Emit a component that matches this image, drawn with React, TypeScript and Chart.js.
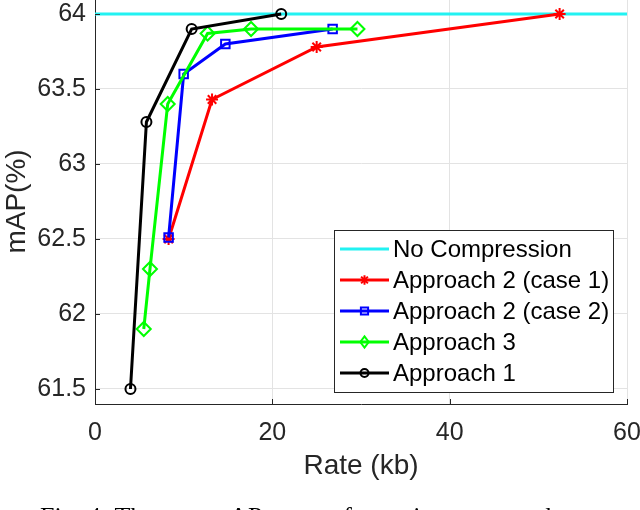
import React, { useEffect, useRef } from "react";
import { Chart, registerables } from "chart.js";

Chart.register(...registerables);

const xTicks = [0, 20, 40, 60];
const yTicks = [61.5, 62, 62.5, 63, 63.5, 64];

const seriesNames = [
  "No Compression",
  "Approach 2 (case 1)",
  "Approach 2 (case 2)",
  "Approach 3",
  "Approach 1",
];

const noCompX = [0, 60];
const noCompY = [64, 64];

const case1X = [8.3, 13.2, 25.0, 52.4];
const case1Y = [62.5, 63.43, 63.78, 64.0];

const case2X = [8.3, 10.0, 14.7, 26.8];
const case2Y = [62.51, 63.6, 63.8, 63.9];

const app3X = [5.5, 6.2, 8.2, 12.7, 17.6, 29.6];
const app3Y = [61.9, 62.3, 63.4, 63.87, 63.9, 63.9];

const app1X = [4.0, 5.8, 10.9, 21.0];
const app1Y = [61.5, 63.28, 63.9, 64.0];

const caption = "Fig. 4: The rate-mAP curves for various approaches.";

const pts = (xs: number[], ys: number[]) => xs.map((x, i) => ({ x, y: ys[i] }));

function drawMarker(ctx: CanvasRenderingContext2D, style: string, r: number, x: number, y: number) {
  ctx.beginPath();
  if (style === "circle") {
    ctx.arc(x, y, r, 0, Math.PI * 2);
  } else if (style === "rect") {
    ctx.rect(x - r * 0.75, y - r * 0.75, r * 1.5, r * 1.5);
  } else if (style === "rectRot") {
    ctx.moveTo(x, y - r);
    ctx.lineTo(x + r * 0.75, y);
    ctx.lineTo(x, y + r);
    ctx.lineTo(x - r * 0.75, y);
    ctx.closePath();
  } else if (style === "star") {
    for (let k = 0; k < 4; k++) {
      const a = (k * Math.PI) / 4;
      ctx.moveTo(x + Math.cos(a) * r, y + Math.sin(a) * r);
      ctx.lineTo(x - Math.cos(a) * r, y - Math.sin(a) * r);
    }
  }
  ctx.stroke();
}

export default function App() {
  const ref = useRef<HTMLCanvasElement | null>(null);

  useEffect(() => {
    if (!ref.current) return;
    const axisColor = "#262626";
    const font = "Liberation Sans, Arial, sans-serif";

    const legendPlugin = {
      id: "customLegend",
      afterDraw(chart: any) {
        const ctx = chart.ctx;
        const xs = chart.scales.x;
        const ys = chart.scales.y;
        ctx.save();
        // inward tick marks
        ctx.strokeStyle = axisColor;
        ctx.lineWidth = 1;
        xTicks.forEach((v) => {
          const px = Math.round(xs.getPixelForValue(v)) + 0.5;
          ctx.beginPath();
          ctx.moveTo(px, chart.chartArea.bottom);
          ctx.lineTo(px, chart.chartArea.bottom - 5);
          ctx.stroke();
        });
        yTicks.forEach((v) => {
          const py = Math.round(ys.getPixelForValue(v)) + 0.5;
          ctx.beginPath();
          ctx.moveTo(chart.chartArea.left, py);
          ctx.lineTo(chart.chartArea.left + 5, py);
          ctx.stroke();
        });

        // legend box
        const bx = 334.5, by = 240.5, bw = 279, bh = 162;
        ctx.fillStyle = "#ffffff";
        ctx.fillRect(bx, by, bw, bh);
        ctx.strokeStyle = axisColor;
        ctx.lineWidth = 1;
        ctx.strokeRect(bx, by, bw, bh);
        const rowY = [259, 290, 321, 352, 383];
        chart.data.datasets.forEach((ds: any, i: number) => {
          const y = rowY[i];
          ctx.strokeStyle = ds.borderColor;
          ctx.lineWidth = ds.borderWidth;
          ctx.beginPath();
          ctx.moveTo(340, y);
          ctx.lineTo(389, y);
          ctx.stroke();
          if (ds.pointRadius > 0) {
            ctx.lineWidth = ds.pointBorderWidth;
            drawMarker(ctx, ds.pointStyle, ds.pointRadius * 0.8, 364.5, y);
          }
          ctx.fillStyle = "#000000";
          ctx.font = `24px ${font}`;
          ctx.textBaseline = "middle";
          ctx.textAlign = "left";
          ctx.fillText(seriesNames[i], 393, y + 1);
        });

        // caption (mostly cropped by the page edge)
        ctx.fillStyle = "#000000";
        ctx.font = "26px 'Liberation Serif', 'Times New Roman', serif";
        ctx.textAlign = "left";
        ctx.textBaseline = "top";
        ctx.fillText(caption, 40, 515);
        ctx.restore();
      },
    };

    const mk = (
      label: string,
      xs: number[],
      ys: number[],
      color: string,
      style: any,
      radius: number,
      order: number
    ) => ({
      label,
      data: pts(xs, ys),
      showLine: true,
      borderColor: color,
      backgroundColor: "rgba(0,0,0,0)",
      pointBorderColor: color,
      pointBackgroundColor: "rgba(0,0,0,0)",
      pointStyle: style,
      pointRadius: radius,
      pointHoverRadius: radius,
      pointBorderWidth: 2,
      borderWidth: 3,
      tension: 0,
      order,
    });

    const chart = new Chart(ref.current, {
      type: "scatter",
      data: {
        datasets: [
          mk(seriesNames[0], noCompX, noCompY, "#22f2f2", "circle", 0, 5),
          mk(seriesNames[1], case1X, case1Y, "#ff0000", "star", 6, 4),
          mk(seriesNames[2], case2X, case2Y, "#0000ff", "rect", 6, 3),
          mk(seriesNames[3], app3X, app3Y, "#00ff00", "rectRot", 7, 2),
          mk(seriesNames[4], app1X, app1Y, "#000000", "circle", 5, 1),
        ] as any,
      },
      options: {
        animation: false,
        responsive: false,
        events: [],
        layout: { padding: { top: 9, right: 13, left: 0, bottom: 0 } },
        plugins: {
          legend: { display: false },
          tooltip: { enabled: false },
        },
        scales: {
          x: {
            type: "linear",
            min: 0,
            max: 60,
            afterBuildTicks: (s: any) => {
              s.ticks = xTicks.map((v) => ({ value: v }));
            },
            afterFit: (s: any) => {
              s.height = 106;
              s.paddingLeft = 0;
              s.paddingRight = 0;
            },
            grid: { color: "#e3e3e3", drawTicks: false, lineWidth: 1 },
            border: { color: axisColor, width: 1 },
            ticks: {
              color: "#262626",
              font: { family: font, size: 25 },
              padding: 14,
              maxRotation: 0,
              callback: (v: any) => String(v),
            },
            title: {
              display: true,
              text: "Rate (kb)",
              color: "#262626",
              font: { family: font, size: 28 },
              padding: { top: 2, bottom: 27 },
            },
          },
          y: {
            type: "linear",
            min: 61.4,
            max: 64.1,
            afterBuildTicks: (s: any) => {
              s.ticks = yTicks.map((v) => ({ value: v }));
            },
            afterFit: (s: any) => {
              s.width = 95;
              s.paddingTop = 0;
              s.paddingBottom = 0;
            },
            grid: { color: "#e3e3e3", drawTicks: false, lineWidth: 1 },
            border: { color: axisColor, width: 1 },
            ticks: {
              color: "#262626",
              font: { family: font, size: 25 },
              padding: 9,
              callback: (v: any) => String(v),
            },
            title: {
              display: true,
              text: "mAP(%)",
              color: "#262626",
              font: { family: font, size: 28 },
              padding: { top: 0, bottom: 4 },
            },
          },
        },
      },
      plugins: [legendPlugin],
    });
    return () => chart.destroy();
  }, []);

  return (
    <div style={{ position: "absolute", left: 0, top: -10, width: 640, height: 520 }}>
      <canvas ref={ref} width={640} height={520} style={{ width: 640, height: 520, display: "block" }} />
    </div>
  );
}
